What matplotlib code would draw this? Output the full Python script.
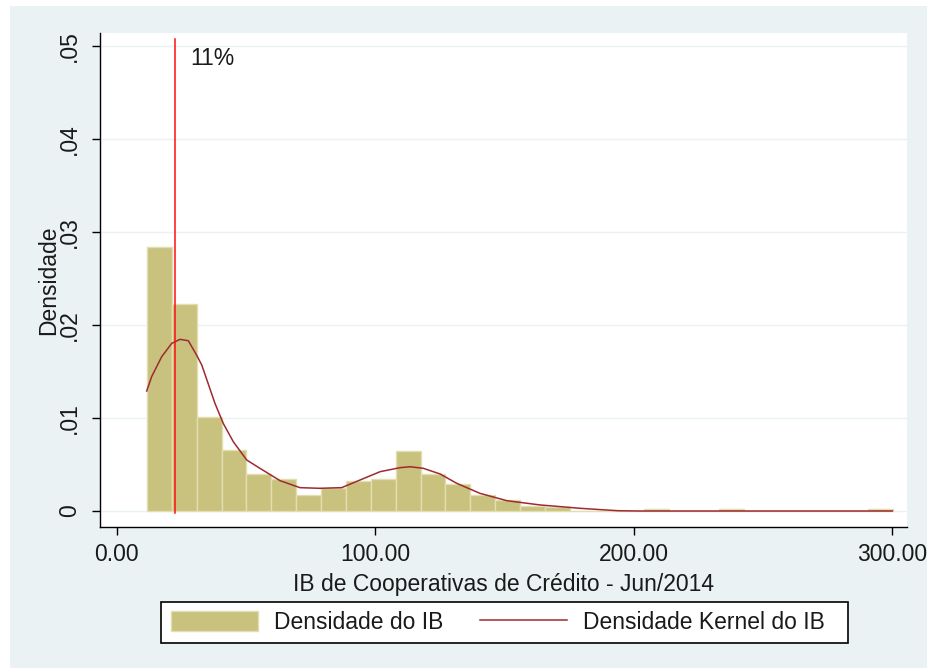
import numpy as np
import matplotlib
matplotlib.use("Agg")
import matplotlib.pyplot as plt
from matplotlib.patches import Rectangle
from matplotlib.lines import Line2D
from matplotlib.patches import Patch

plt.rcParams['font.family'] = ['Liberation Sans', 'DejaVu Sans']

# Histogram of IB (30 equal-width bins between the sample min and max)
ib_min, ib_max, n_bins = 11.7, 300.3, 30
hist_density = [0.02835, 0.02223, 0.01008, 0.00656, 0.00395, 0.00344, 0.00169,
                0.00251, 0.00326, 0.00341, 0.00648, 0.00395, 0.00290, 0.00172,
                0.00118, 0.00054, 0.00040, 0.0, 0.0, 0.0, 0.00020, 0.0, 0.0,
                0.00020, 0.0, 0.0, 0.0, 0.0, 0.0, 0.00020]

# Kernel density estimate of IB
kde_x = [11.6, 13.5, 17.4, 21.3, 24.5, 27.7, 30.9, 32.9, 38.0, 41.2, 45.1, 50.3,
         55.4, 63.2, 70.9, 78.6, 87.0, 94.1, 101.9, 109.6, 113.5, 118.6, 125.1,
         131.5, 140.5, 150.9, 163.8, 179.3, 187.0, 194.0, 202.4, 250.0, 300.0]
kde_y = [0.01290, 0.01444, 0.01659, 0.01803, 0.01846, 0.01831, 0.01677, 0.01570,
         0.01158, 0.00943, 0.00745, 0.00548, 0.00459, 0.00326, 0.00251, 0.00244,
         0.00251, 0.00333, 0.00423, 0.00466, 0.00476, 0.00459, 0.00398, 0.00298,
         0.00190, 0.00111, 0.00065, 0.00029, 0.00015, 0.00003, 0.0, 0.0, 0.0]

# Reference line (11%)
ref_x = 22.55
ref_label = "11%"

x_ticks = [0, 100, 200, 300]
x_ticklabels = ["0.00", "100.00", "200.00", "300.00"]
y_ticks = [0, 0.01, 0.02, 0.03, 0.04, 0.05]
y_ticklabels = ["0", ".01", ".02", ".03", ".04", ".05"]

FS = 16.5
W, H = 927, 669
fig = plt.figure(figsize=(W / 100, H / 100), dpi=100, facecolor='white')

# outer graph region
fig.patches.append(Rectangle((10 / W, 1 - 668 / H), 917 / W, 662 / H,
                             transform=fig.transFigure, facecolor='#EAF2F3',
                             edgecolor='none', zorder=-10))

ax = fig.add_axes([100 / W, 1 - 527 / H, 807.3 / W, 494 / H])
ax.set_facecolor('white')

bar_color = '#C9C27E'
edges = np.linspace(ib_min, ib_max, n_bins + 1)
ax.bar(edges[:-1], hist_density, width=np.diff(edges), align='edge',
       color=bar_color, edgecolor='#E2DEB0', linewidth=1.0, zorder=2)

kde_color = '#9E2A30'
ax.plot(kde_x, kde_y, color=kde_color, linewidth=1.1, zorder=3)

ax.plot([ref_x, ref_x], [-0.00025, 0.0508], color='#FF1010', linewidth=1.1, zorder=4)
ax.text(28.3, 0.04796, ref_label, fontsize=FS, color='#1a1a1a',
        ha='left', va='baseline', zorder=5)

ax.set_xlim(-6.46, 305.8)
ax.set_ylim(-0.00172, 0.0514)

ax.set_yticks(y_ticks)
ax.set_yticklabels(y_ticklabels)
ax.set_xticks(x_ticks)
ax.set_xticklabels(x_ticklabels)

ax.grid(axis='y', color='#EAF2F3', linewidth=1.0, zorder=0)
ax.set_axisbelow(True)

for s in ['top', 'right']:
    ax.spines[s].set_visible(False)
for s in ['left', 'bottom']:
    ax.spines[s].set_color('black')
    ax.spines[s].set_linewidth(1.0)

ax.tick_params(axis='both', direction='out', length=5.8, width=1.0,
               color='black', labelsize=FS, labelcolor='#1a1a1a')
ax.tick_params(axis='y', labelrotation=90, pad=8)
ax.tick_params(axis='x', pad=6)
for lbl in ax.get_yticklabels():
    lbl.set_va('center')

ax.set_xlabel("IB de Cooperativas de Crédito - Jun/2014", fontsize=FS,
              color='#1a1a1a')
ax.xaxis.label.set_va('baseline')
ax.xaxis.set_label_coords(0.5, (527 - 591) / 494)

ax.set_ylabel("Densidade", fontsize=FS, color='#1a1a1a')
ax.yaxis.label.set_va('baseline')
ax.yaxis.set_label_coords((55 - 100) / 807.3, 0.5)

# legend box
fig.patches.append(Rectangle((161 / W, 1 - 643.3 / H), 687 / W, 41.6 / H,
                             transform=fig.transFigure, facecolor='white',
                             edgecolor='black', linewidth=1.2, zorder=1))
handles = [Patch(facecolor=bar_color, edgecolor='#E2DEB0', linewidth=1.0),
           Line2D([0], [0], color=kde_color, linewidth=1.1)]
leg = fig.legend(handles, ["Densidade do IB", "Densidade Kernel do IB"],
                 loc='center left', bbox_to_anchor=(170.7 / W, 1 - 622.5 / H),
                 ncol=2, frameon=False, fontsize=FS, borderpad=0,
                 borderaxespad=0, handlelength=3.8, handleheight=1.0,
                 handletextpad=0.70, columnspacing=1.6)
leg.set_zorder(2)
for t in leg.get_texts():
    t.set_color('#1a1a1a')

fig.savefig("out.png", dpi=100, facecolor='white')
